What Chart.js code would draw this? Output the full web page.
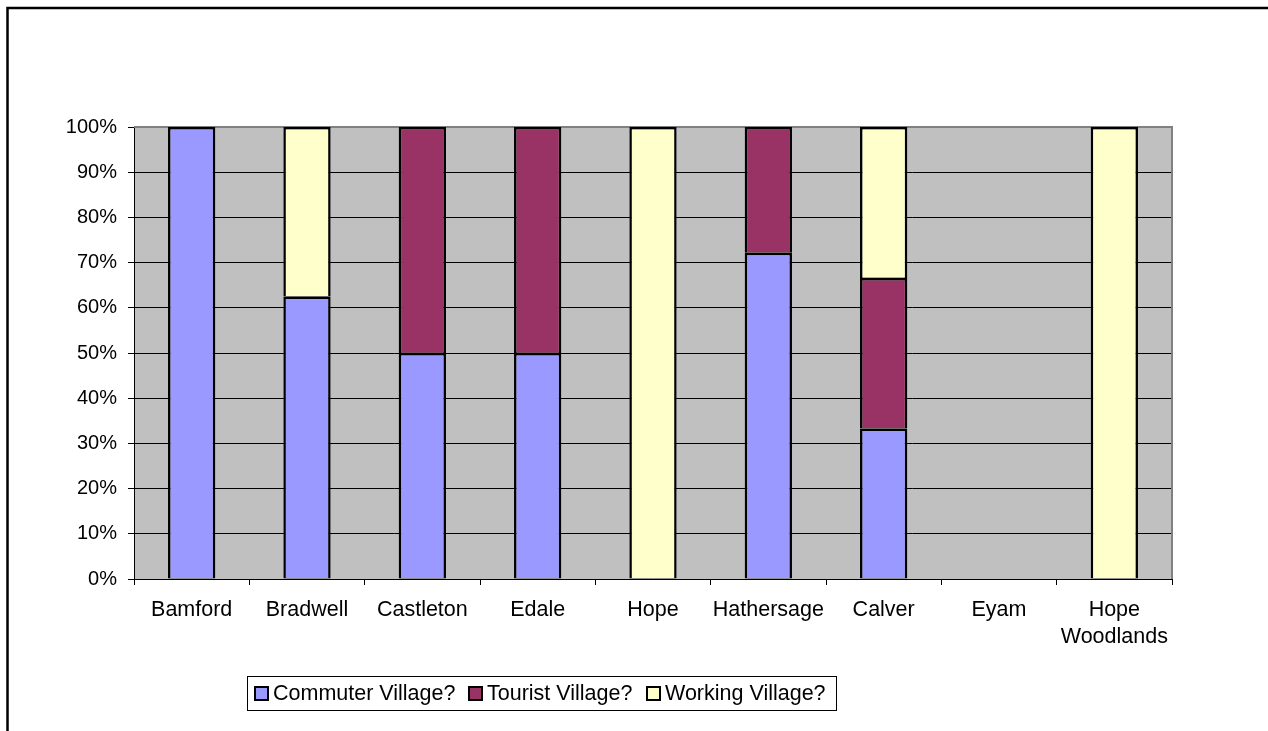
<!DOCTYPE html>
<html lang="en">
<head>
  <meta charset="UTF-8">
  <title>Village types</title>
  <script src="https://cdn.jsdelivr.net/npm/chart.js"></script>
  <style>
    body { margin: 0; background: #fff; }
    canvas { display: block; }
  </style>
</head>
<body>
  <canvas id="chart" width="1268" height="731"></canvas>

  <script>
    // village names along the bottom
    const villages = ['Bamford', 'Bradwell', 'Castleton', 'Edale', 'Hope', 'Hathersage', 'Calver', 'Eyam', ['Hope', 'Woodlands']];

    // share of answers per village (percent), null where a village has none
    const commuter = [100, 62.5, 50, 50, null, 72.2, 33.3, null, null];
    const tourist  = [null, null, 50, 50, null, 27.8, 33.3, null, null];
    const working  = [null, 37.5, null, null, 100, null, 33.4, null, 100];

    const seriesNames = ['Commuter Village?', 'Tourist Village?', 'Working Village?'];
    const seriesColors = ['#9999FF', '#993366', '#FFFFCC'];

    const FONT = 'Arial, "Liberation Sans", sans-serif';

    // grey plot background, frame and legend box
    const decor = {
      id: 'decor',
      beforeDraw(chart) {
        const { ctx, chartArea: a } = chart;
        ctx.save();
        ctx.fillStyle = '#C0C0C0';
        ctx.fillRect(a.left, a.top, a.right - a.left, a.bottom - a.top);
        ctx.restore();
      },
      beforeDatasetsDraw(chart) {
        const { ctx, chartArea: a } = chart;
        ctx.save();
        ctx.strokeStyle = '#808080';
        ctx.lineWidth = 2;
        ctx.beginPath();
        ctx.moveTo(a.left, a.top);
        ctx.lineTo(a.right, a.top);
        ctx.lineTo(a.right, a.bottom);
        ctx.stroke();
        ctx.restore();
      },
      afterDraw(chart) {
        const { ctx } = chart;
        ctx.save();
        // outer frame
        ctx.strokeStyle = '#000';
        ctx.lineWidth = 2.5;
        ctx.beginPath();
        ctx.moveTo(7.5, 740);
        ctx.lineTo(7.5, 8);
        ctx.lineTo(1280, 8);
        ctx.stroke();

        // legend
        ctx.lineWidth = 1;
        ctx.strokeStyle = '#000';
        ctx.fillStyle = '#fff';
        ctx.fillRect(247.5, 676.5, 589, 34);
        ctx.strokeRect(247.5, 676.5, 589, 34);
        const boxX = [255, 469, 647];
        ctx.font = '21.5px ' + FONT;
        ctx.textBaseline = 'middle';
        seriesNames.forEach((name, i) => {
          ctx.fillStyle = seriesColors[i];
          ctx.fillRect(boxX[i], 687, 13, 13);
          ctx.lineWidth = 2;
          ctx.strokeRect(boxX[i], 687, 13, 13);
          ctx.fillStyle = '#000';
          ctx.fillText(name, boxX[i] + 18, 694);
        });
        ctx.restore();
      }
    };

    const makeSet = (label, data, color) => ({
      label,
      data,
      backgroundColor: color,
      borderColor: '#000',
      borderWidth: { top: 2.5, left: 2.5, right: 2.5, bottom: 0.5 },
      borderSkipped: false,
      barPercentage: 0.41,
      categoryPercentage: 1
    });

    new Chart(document.getElementById('chart'), {
      type: 'bar',
      data: {
        labels: villages,
        datasets: [
          makeSet(seriesNames[0], commuter, seriesColors[0]),
          makeSet(seriesNames[1], tourist, seriesColors[1]),
          makeSet(seriesNames[2], working, seriesColors[2])
        ]
      },
      options: {
        responsive: false,
        animation: false,
        layout: { padding: { left: 0, top: 127, right: 96, bottom: 0 } },
        plugins: {
          legend: { display: false },
          tooltip: { enabled: false }
        },
        scales: {
          x: {
            stacked: true,
            afterFit(scale) { scale.height = 152; },
            border: { color: '#000', width: 1 },
            grid: { drawOnChartArea: false, drawTicks: true, tickLength: 6, color: '#000' },
            ticks: {
              color: '#000',
              font: { family: FONT, size: 21.5, lineHeight: 1.25 },
              padding: 12,
              maxRotation: 0,
              autoSkip: false
            }
          },
          y: {
            stacked: true,
            min: 0,
            max: 100,
            afterFit(scale) { scale.width = 134; },
            border: { color: '#000', width: 1 },
            grid: { color: '#000', lineWidth: 1, tickLength: 6 },
            ticks: {
              stepSize: 10,
              color: '#000',
              font: { family: FONT, size: 20 },
              padding: 11,
              callback: v => v + '%'
            }
          }
        }
      },
      plugins: [decor]
    });
  </script>
</body>
</html>
